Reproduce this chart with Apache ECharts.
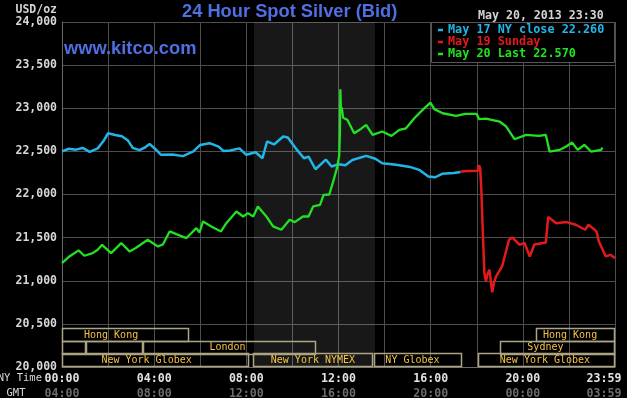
<!DOCTYPE html>
<html>
<head>
<meta charset="utf-8">
<script src="https://cdn.jsdelivr.net/npm/echarts@6/dist/echarts.min.js"></script>
<style>
html,body{margin:0;padding:0;background:#000;}
#chart{width:627px;height:398px;}
</style>
</head>
<body>
<div id="chart"></div>
<script>
// ---------- data ----------
const may17Hours = [0,0.3,0.6,0.9,1.2,1.55,1.8,2.0,2.3,2.6,2.85,3.07,3.36,3.6,3.8,4.0,4.3,4.8,5.25,5.7,6.0,6.4,6.8,7.0,7.3,7.7,8.0,8.4,8.7,8.9,9.2,9.6,9.8,10.2,10.5,10.7,11.0,11.45,11.7,12.0,12.3,12.6,13.2,13.6,13.9,14.5,15.1,15.5,15.9,16.2,16.5,17.0,17.3];
const may17Values = [22500,22530,22520,22540,22495,22535,22620,22710,22690,22675,22630,22540,22515,22545,22585,22540,22460,22465,22445,22500,22575,22595,22555,22505,22510,22535,22460,22490,22420,22615,22580,22672,22660,22517,22420,22440,22293,22405,22324,22350,22340,22400,22448,22415,22363,22344,22320,22286,22209,22200,22240,22250,22262];

const may19Hours = [17.3,17.6,18.05,18.1,18.15,18.2,18.26,18.33,18.4,18.47,18.55,18.67,18.75,18.84,19.1,19.4,19.55,19.86,20.07,20.3,20.5,21.0,21.1,21.45,21.9,22.3,22.7,22.85,23.2,23.3,23.6,23.8,24.0];
const may19Values = [22268,22272,22275,22340,22300,22050,21590,21090,20995,21080,21128,20865,20980,21050,21167,21475,21500,21417,21440,21282,21420,21444,21738,21668,21680,21649,21591,21650,21572,21456,21282,21300,21263];

const may20Hours = [0,0.32,0.72,0.97,1.33,1.55,1.74,2.13,2.57,2.93,3.2,3.72,4.16,4.38,4.67,4.96,5.4,5.83,5.97,6.12,6.48,6.9,7.13,7.57,7.86,8.07,8.3,8.5,8.87,9.16,9.52,9.88,10.1,10.46,10.7,10.9,11.2,11.35,11.6,11.75,11.95,12.03,12.06,12.08,12.11,12.14,12.2,12.39,12.68,12.97,13.2,13.48,13.9,14.3,14.64,14.93,15.29,15.65,15.99,16.16,16.52,17.1,17.5,18.0,18.1,18.4,18.99,19.28,19.64,20.14,20.7,21.0,21.16,21.59,21.88,22.14,22.38,22.67,22.96,23.4,23.45];
const may20Values = [21205,21282,21352,21290,21320,21360,21417,21321,21437,21340,21380,21475,21398,21420,21572,21540,21495,21610,21560,21688,21630,21572,21668,21803,21745,21784,21745,21861,21745,21630,21591,21707,21680,21745,21745,21861,21880,21996,22000,22132,22324,22450,22700,23220,22960,23010,22890,22865,22710,22760,22807,22691,22730,22680,22749,22768,22884,22981,23066,22990,22942,22911,22934,22934,22873,22880,22846,22788,22641,22691,22680,22691,22498,22517,22556,22602,22517,22575,22498,22517,22545];

const seriesNames = ['May 17 NY close 22.260','May 19 Sunday','May 20 Last 22.570'];

const yTickValues = [20000,20500,21000,21500,22000,22500,23000,23500,24000];
const yTickLabels = ['20,000','20,500','21,000','21,500','22,000','22,500','23,000','23,500','24,000'];
const xTickHours = [0,4,8,12,16,20,24];
const nyTimeLabels = ['00:00','04:00','08:00','12:00','16:00','20:00','23:59'];
const gmtLabels = ['04:00','08:00','12:00','16:00','20:00','00:00','03:59'];

const nymexHours = [8.33,13.58];

const sessionNames = ['Hong Kong','Hong Kong','','','London','Sydney','New York Globex','New York NYMEX','NY Globex','New York Globex'];
const sessionStart = [0,20.57,0,1.04,3.52,19.01,0,8.29,13.54,18.06];
const sessionEnd   = [5.5,24,1.04,3.52,11.02,24,8.12,13.5,17.36,24];
const sessionRow   = [0,0,1,1,1,1,2,2,2,2];
const sessionLabelAt = [2.13,22.05,0,0,7.18,20.98,3.67,10.89,15.21,20.96];

// ---------- build ----------
const zip = (h, v) => h.map((x, i) => [x, v[i]]);
const sessionData = sessionNames.map((n, i) => [sessionStart[i], sessionEnd[i], sessionRow[i], sessionLabelAt[i], n]);

const MONO = '"DejaVu Sans Mono", monospace';
const SANS = '"Liberation Sans", Arial, sans-serif';
const BLUE = '#4f6fe2';
const CYAN = '#22b6e8';
const RED = '#e41a1a';
const GREEN = '#22e022';

const chart = echarts.init(document.getElementById('chart'), null, {renderer: 'canvas'});

const option = {
  backgroundColor: '#000',
  animation: false,
  title: [
    {text: '24 Hour Spot Silver (Bid)', left: 182, top: 3, padding: 0,
     textStyle: {color: BLUE, fontFamily: SANS, fontSize: 18.3, fontWeight: 'bold'}},
    {text: 'www.kitco.com', left: 64, top: 40, padding: 0,
     textStyle: {color: BLUE, fontFamily: SANS, fontSize: 18.3, fontWeight: 'bold'}},
    {text: 'May 20, 2013 23:30', left: 478, top: 10, padding: 0,
     textStyle: {color: '#d4d4d4', fontFamily: MONO, fontSize: 11.6, fontWeight: 'bold'}}
  ],
  legend: {
    orient: 'vertical', left: 438, top: 24, padding: 0, itemGap: 0,
    itemWidth: 5, itemHeight: 2.5, icon: 'rect', z: 10, selectedMode: false,
    data: [
      {name: seriesNames[0], textStyle: {color: CYAN}},
      {name: seriesNames[1], textStyle: {color: RED}},
      {name: seriesNames[2], textStyle: {color: GREEN}}
    ],
    textStyle: {fontFamily: MONO, fontSize: 11.8, fontWeight: 'bold', lineHeight: 12}
  },
  grid: {left: 62, right: 12, top: 22, bottom: 31, containLabel: false, outerBoundsMode: 'none'},
  xAxis: {
    type: 'value', min: 0, max: 24, interval: 2,
    axisLine: {show: true, lineStyle: {color: '#6a6a6a', width: 1}},
    axisTick: {show: false},
    splitLine: {show: true, lineStyle: {color: '#4e4e4e', width: 1}},
    axisLabel: {
      margin: 4,
      formatter: function (v) {
        const i = xTickHours.indexOf(v);
        if (i < 0) return '';
        if (v === 24) return '{nyl|' + nyTimeLabels[i] + '}\n{gmtl|' + gmtLabels[i] + '}';
        return '{ny|' + nyTimeLabels[i] + '}\n{gmt|' + gmtLabels[i] + '}';
      },
      rich: {
        ny: {color: '#e2e2e2', fontFamily: MONO, fontWeight: 'bold', fontSize: 11.6, lineHeight: 15},
        gmt: {color: '#6c6c6c', fontFamily: MONO, fontWeight: 'bold', fontSize: 11.6, lineHeight: 15},
        nyl: {color: '#e2e2e2', fontFamily: MONO, fontWeight: 'bold', fontSize: 11.6, lineHeight: 15, padding: [0,22,0,0]},
        gmtl: {color: '#6c6c6c', fontFamily: MONO, fontWeight: 'bold', fontSize: 11.6, lineHeight: 15, padding: [0,22,0,0]}
      }
    }
  },
  yAxis: {
    type: 'value', min: 20000, max: 24000, interval: 500,
    name: 'USD/oz', nameLocation: 'end', nameGap: 6,
    nameTextStyle: {color: '#d4d4d4', fontFamily: MONO, fontSize: 11.5, fontWeight: 'bold', align: 'right', padding: [0,5,0,0]},
    axisLine: {show: true, lineStyle: {color: '#6a6a6a', width: 1}},
    axisTick: {show: false},
    splitLine: {show: true, lineStyle: {color: '#4e4e4e', width: 1}},
    axisLabel: {
      margin: 5, color: '#d8d8d8', fontFamily: MONO, fontSize: 11.5, fontWeight: 'bold',
      formatter: function (v) { const i = yTickValues.indexOf(v); return i < 0 ? '' : yTickLabels[i]; }
    }
  },
  graphic: [
    {type: 'rect', z: 5, shape: {x: 431.5, y: 22.5, width: 183, height: 40},
     style: {fill: '#000', stroke: '#555', lineWidth: 1}},
    {type: 'text', z: 5, style: {text: 'NY Time', x: 42, y: 378, textAlign: 'right', textVerticalAlign: 'middle',
      fill: '#d8d8d8', font: '10.5px ' + MONO}},
    {type: 'text', z: 5, style: {text: 'GMT', x: 16, y: 393, textAlign: 'center', textVerticalAlign: 'middle',
      fill: '#d8d8d8', font: '10.5px ' + MONO}}
  ],
  series: [
    {
      name: seriesNames[0], type: 'line', data: zip(may17Hours, may17Values),
      showSymbol: false, symbol: 'none', color: CYAN, lineStyle: {color: CYAN, width: 2.5}, z: 3,
      markArea: {silent: true, itemStyle: {color: 'rgba(255,255,255,0.095)'},
        data: [[{xAxis: nymexHours[0]}, {xAxis: nymexHours[1]}]]}
    },
    {
      name: seriesNames[1], type: 'line', data: zip(may19Hours, may19Values),
      showSymbol: false, symbol: 'none', color: RED, lineStyle: {color: RED, width: 2.5}, z: 3
    },
    {
      name: seriesNames[2], type: 'line', data: zip(may20Hours, may20Values),
      showSymbol: false, symbol: 'none', color: GREEN, lineStyle: {color: GREEN, width: 2.3}, z: 4
    },
    {
      type: 'custom', data: sessionData, silent: true, z: 3, clip: false,
      renderItem: function (params, api) {
        const row = api.value(2);
        const topV = 20450 - row * 145;
        const botV = topV - 145;
        const p0 = api.coord([api.value(0), topV]);
        const p1 = api.coord([api.value(1), botV]);
        const pl = api.coord([api.value(3), (topV + botV) / 2]);
        const name = sessionNames[params.dataIndex];
        const children = [{
          type: 'rect',
          shape: {x: Math.round(p0[0]) + 0.5, y: Math.round(p0[1]) + 0.5,
                  width: Math.round(p1[0] - p0[0]) - 1, height: Math.round(p1[1] - p0[1])},
          style: {fill: 'none', stroke: '#aaa582', lineWidth: 1.5}
        }];
        if (name) {
          children.push({type: 'text', style: {text: name, x: pl[0], y: pl[1] + 0.5, textAlign: 'center',
            textVerticalAlign: 'middle', fill: '#f4c244', font: '10px ' + MONO}});
        }
        return {type: 'group', children: children};
      }
    }
  ]
};
chart.setOption(option);
</script>
</body>
</html>
